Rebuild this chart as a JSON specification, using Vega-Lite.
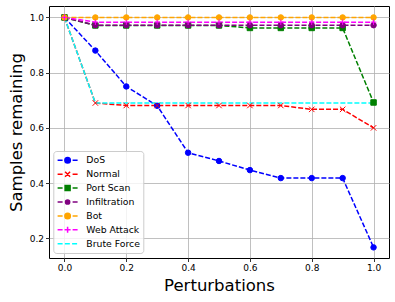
{
  "$schema": "https://vega.github.io/schema/vega-lite/v6.json",
  "autosize": {"type": "none"},
  "width": 340,
  "height": 252,
  "padding": {"left": 49, "top": 6, "right": 6, "bottom": 44},
  "background": "white",
  "config": {
    "view": {"stroke": "black", "strokeWidth": 1},
    "axis": {
      "labelFont": "DejaVu Sans", "labelFontSize": 9, "labelColor": "#000",
      "tickColor": "#000", "tickSize": 3.5, "tickWidth": 0.8, "labelPadding": 2,
      "grid": true, "gridColor": "#b0b0b0", "gridWidth": 0.8, "domain": false,
      "titleFont": "DejaVu Sans", "titleFontSize": 16.5, "titleFontWeight": "normal", "titleColor": "#000"
    }
  },
  "data": {"values": [
    {"p":0.0,"v":1.0,"s":"DoS"},{"p":0.1,"v":0.88,"s":"DoS"},{"p":0.2,"v":0.75,"s":"DoS"},{"p":0.3,"v":0.68,"s":"DoS"},{"p":0.4,"v":0.51,"s":"DoS"},{"p":0.5,"v":0.48,"s":"DoS"},{"p":0.6,"v":0.447,"s":"DoS"},{"p":0.7,"v":0.418,"s":"DoS"},{"p":0.8,"v":0.418,"s":"DoS"},{"p":0.9,"v":0.418,"s":"DoS"},{"p":1.0,"v":0.167,"s":"DoS"},
    {"p":0.0,"v":1.0,"s":"Normal"},{"p":0.1,"v":0.69,"s":"Normal"},{"p":0.2,"v":0.681,"s":"Normal"},{"p":0.3,"v":0.681,"s":"Normal"},{"p":0.4,"v":0.681,"s":"Normal"},{"p":0.5,"v":0.681,"s":"Normal"},{"p":0.6,"v":0.681,"s":"Normal"},{"p":0.7,"v":0.681,"s":"Normal"},{"p":0.8,"v":0.667,"s":"Normal"},{"p":0.9,"v":0.667,"s":"Normal"},{"p":1.0,"v":0.6,"s":"Normal"},
    {"p":0.0,"v":1.0,"s":"Port Scan"},{"p":0.1,"v":0.971,"s":"Port Scan"},{"p":0.2,"v":0.971,"s":"Port Scan"},{"p":0.3,"v":0.971,"s":"Port Scan"},{"p":0.4,"v":0.971,"s":"Port Scan"},{"p":0.5,"v":0.971,"s":"Port Scan"},{"p":0.6,"v":0.962,"s":"Port Scan"},{"p":0.7,"v":0.962,"s":"Port Scan"},{"p":0.8,"v":0.962,"s":"Port Scan"},{"p":0.9,"v":0.962,"s":"Port Scan"},{"p":1.0,"v":0.692,"s":"Port Scan"},
    {"p":0.0,"v":1.0,"s":"Infiltration"},{"p":0.1,"v":0.972,"s":"Infiltration"},{"p":0.2,"v":0.972,"s":"Infiltration"},{"p":0.3,"v":0.972,"s":"Infiltration"},{"p":0.4,"v":0.972,"s":"Infiltration"},{"p":0.5,"v":0.972,"s":"Infiltration"},{"p":0.6,"v":0.972,"s":"Infiltration"},{"p":0.7,"v":0.972,"s":"Infiltration"},{"p":0.8,"v":0.972,"s":"Infiltration"},{"p":0.9,"v":0.972,"s":"Infiltration"},{"p":1.0,"v":0.972,"s":"Infiltration"},
    {"p":0.0,"v":1.0,"s":"Bot"},{"p":0.1,"v":1.0,"s":"Bot"},{"p":0.2,"v":1.0,"s":"Bot"},{"p":0.3,"v":1.0,"s":"Bot"},{"p":0.4,"v":1.0,"s":"Bot"},{"p":0.5,"v":1.0,"s":"Bot"},{"p":0.6,"v":1.0,"s":"Bot"},{"p":0.7,"v":1.0,"s":"Bot"},{"p":0.8,"v":1.0,"s":"Bot"},{"p":0.9,"v":1.0,"s":"Bot"},{"p":1.0,"v":1.0,"s":"Bot"},
    {"p":0.0,"v":1.0,"s":"Web Attack"},{"p":0.1,"v":0.983,"s":"Web Attack"},{"p":0.2,"v":0.983,"s":"Web Attack"},{"p":0.3,"v":0.983,"s":"Web Attack"},{"p":0.4,"v":0.983,"s":"Web Attack"},{"p":0.5,"v":0.983,"s":"Web Attack"},{"p":0.6,"v":0.983,"s":"Web Attack"},{"p":0.7,"v":0.983,"s":"Web Attack"},{"p":0.8,"v":0.983,"s":"Web Attack"},{"p":0.9,"v":0.983,"s":"Web Attack"},{"p":1.0,"v":0.983,"s":"Web Attack"},
    {"p":0.0,"v":1.0,"s":"Brute Force"},{"p":0.1,"v":0.69,"s":"Brute Force"},{"p":0.2,"v":0.69,"s":"Brute Force"},{"p":0.3,"v":0.69,"s":"Brute Force"},{"p":0.4,"v":0.69,"s":"Brute Force"},{"p":0.5,"v":0.69,"s":"Brute Force"},{"p":0.6,"v":0.69,"s":"Brute Force"},{"p":0.7,"v":0.69,"s":"Brute Force"},{"p":0.8,"v":0.69,"s":"Brute Force"},{"p":0.9,"v":0.69,"s":"Brute Force"},{"p":1.0,"v":0.69,"s":"Brute Force"}
  ]},
  "encoding": {
    "x": {"field": "p", "type": "quantitative", "title": "Perturbations",
      "scale": {"domain": [-0.05, 1.05], "nice": false, "zero": false},
      "axis": {"values": [0, 0.2, 0.4, 0.6, 0.8, 1.0], "format": ".1f", "titlePadding": 5}},
    "y": {"field": "v", "type": "quantitative", "title": "Samples remaining",
      "scale": {"domain": [0.1285, 1.0415], "nice": false, "zero": false},
      "axis": {"values": [0.2, 0.4, 0.6, 0.8, 1.0], "format": ".1f", "titlePadding": 5}},
    "color": {"field": "s", "type": "nominal",
      "scale": {"domain": ["DoS", "Normal", "Port Scan", "Infiltration", "Bot", "Web Attack", "Brute Force"],
        "range": ["#0000ff", "#ff0000", "#008000", "#800080", "#ffa500", "#ff00ff", "#00ffff"]},
      "legend": {
        "title": null, "orient": "none", "legendX": 4.3, "legendY": 145,
        "padding": 3.3, "rowPadding": 1.9, "symbolSize": 100, "symbolStrokeWidth": 1.5,
        "labelFont": "DejaVu Sans", "labelFontSize": 9.3, "labelColor": "#000", "labelOffset": 17.7,
        "fillColor": "rgba(255,255,255,0.8)", "strokeColor": "#cccccc", "cornerRadius": 3,
        "encode": {"symbols": {"update": {
          "shape": {"signal": "datum.value === 'DoS' || datum.value === 'Bot' ? 'M-1,0H0M2,0H3M1.55,0A0.55,0.55 0 1,1 0.45,0A0.55,0.55 0 1,1 1.55,0Z' : datum.value === 'Normal' ? 'M-1,0H0M2,0H3M0.5,-0.5L1.5,0.5M0.5,0.5L1.5,-0.5' : datum.value === 'Port Scan' ? 'M-1,0H0M2,0H3M0.5,-0.5H1.5V0.5H0.5Z' : datum.value === 'Infiltration' ? 'M-1,0H0M2,0H3M1.42,0A0.42,0.42 0 1,1 0.58,0A0.42,0.42 0 1,1 1.42,0Z' : datum.value === 'Web Attack' ? 'M-1,0H0M2,0H3M0.4,0H1.6M1,-0.6V0.6' : 'M-1,0H0M0.45,0H1.45M1.9,0H2.9'"},
          "fill": {"scale": "color", "field": "value"},
          "stroke": {"scale": "color", "field": "value"},
          "strokeWidth": {"value": 1.5},
          "size": {"value": 100},
          "opacity": {"value": 1}
        }}}
      }}
  },
  "layer": [
    {"mark": {"type": "line", "strokeWidth": 1.5, "strokeDash": [5, 2]}},
    {"transform": [{"filter": "datum.s !== 'Brute Force'"}],
     "mark": {"type": "point", "filled": true, "strokeWidth": 1, "opacity": 1},
     "encoding": {
       "shape": {"field": "s", "type": "nominal", "legend": null,
         "scale": {"domain": ["DoS", "Normal", "Port Scan", "Infiltration", "Bot", "Web Attack"],
           "range": ["circle", "M-1,-1L1,1M-1,1L1,-1", "square", "circle", "circle", "M-1,0H1M0,-1V1"]}},
       "size": {"field": "s", "type": "nominal", "legend": null,
         "scale": {"domain": ["DoS", "Normal", "Port Scan", "Infiltration", "Bot", "Web Attack"],
           "range": [30, 30, 28, 16, 30, 40]}},
       "stroke": {"field": "s", "type": "nominal", "legend": null,
         "scale": {"domain": ["DoS", "Normal", "Port Scan", "Infiltration", "Bot", "Web Attack", "Brute Force"],
           "range": ["#0000ff", "#ff0000", "#008000", "#800080", "#ffa500", "#ff00ff", "#00ffff"]}}
     }}
  ]
}
